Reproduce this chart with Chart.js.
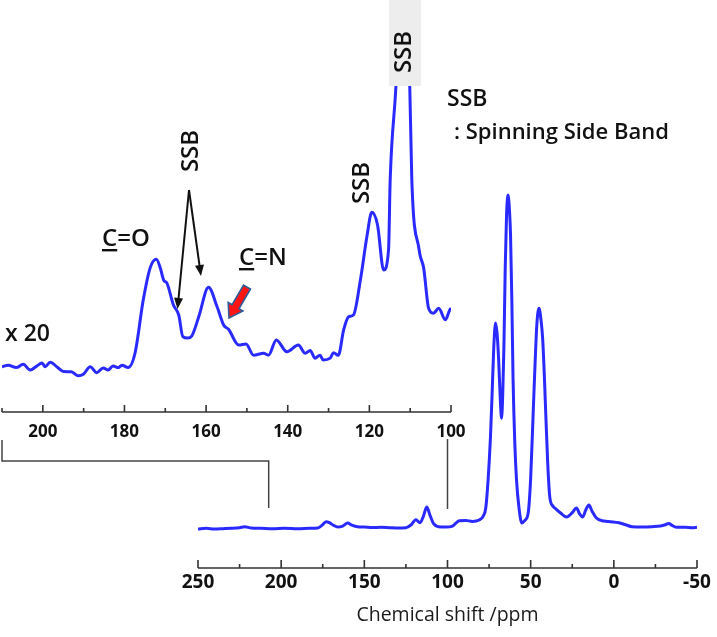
<!DOCTYPE html>
<html><head><meta charset="utf-8">
<script src="https://cdn.jsdelivr.net/npm/chart.js@4"></script>
<style>
html,body{margin:0;padding:0;background:#fff;}
#wrap{position:relative;width:717px;height:637px;overflow:hidden;}
canvas{position:absolute;left:0;top:0;}
</style></head><body>
<div id="wrap">
<canvas id="main" width="717" height="637"></canvas>
<canvas id="inset" width="717" height="450"></canvas>
</div>
<script>
// ---- data ----
const mainPpm = [250,245,240,235,230,225,222,218,212,205,198,190,183,178,175.5,173,171,168.5,166,163,160,157.5,154,150,145,140,135,130,125,122,119,116.5,114.5,112.5,110.5,108.5,105.5,101,97,93,89,85,81,78.5,77,75.6,74.2,73.2,72.2,71.1,70.2,69.2,68.2,67.5,66.8,66.1,65.3,64.5,63.6,62.7,62.1,61.3,60.6,59.5,58.5,57,55.3,53.5,51.5,50,48.5,47.3,46.3,45,43.8,42.8,41.8,40.9,39.8,38.5,36.5,35,32,28.5,25,22.5,20.5,18.8,16.8,15,13,10.5,6,2,-3,-7,-11,-17,-23,-28,-31,-33,-35,-38,-43,-47,-50];
const mainIntensity = [-0.3,-0.1,-0.3,-0.2,-0.1,0.1,0.4,0.0,-0.1,-0.2,-0.1,-0.2,-0.1,0.0,0.8,1.9,1.6,0.8,0.3,0.6,1.5,0.9,0.4,0.3,0.15,0.2,0.1,0.0,0.1,0.9,2.5,1.6,3.5,6.3,3.8,1.4,0.4,0.3,0.6,2.2,2.3,2.0,2.4,3.6,6.0,14.4,27,40,54,61.6,58.5,50,38,33,40,54,78,94,100,95,88,68,45,25,14.4,6,1.5,2.3,4.5,15,34.5,50,61,66,62.5,57,46,34,20,9.3,6.5,5.8,4.5,3.3,4.6,6.0,4.2,3.3,5.5,6.9,5.0,3.0,2.1,1.9,1.6,1.0,0.4,0.3,0.4,0.6,1.0,1.4,0.8,0.2,0.2,0.1,0.2];

const insetPpm = [210,208.5,206.5,204.8,203.1,201.5,200.2,199.4,198.2,196.5,194.9,193,191.3,190,188.4,186.8,185.2,184,182.8,181.5,180.6,179.1,177.4,175.4,173.7,172.2,171.2,170.4,169.6,168,166.7,165.7,164.5,163.5,161.8,159.4,157.3,155.7,154.5,152,150.2,148.4,145.9,144.7,142.8,140.2,137.4,135.7,134.5,133.3,132.1,131.3,129.6,128.8,127.6,126.3,125.1,123.9,122.2,120.6,119.4,118,116.5,115.3,114.9,113.5,112,110.1,109.6,107.8,107.5,106.7,105.5,104.3,103,101.4,100.3,100];
const insetIntensity = [0.1,0.6,-0.2,0.9,-1.0,0.3,1.3,0.1,1.6,0.0,-1.5,-1.6,-2.9,-2.3,0.1,-1.9,-0.3,-1.0,0.3,-0.2,0.6,-0.2,4.6,22,32.6,35.4,32.5,28.6,27.6,20.4,17.1,10,9.5,10.2,16.5,26.2,19.8,13.8,12.4,7.2,7.6,3.9,4.5,3.9,8.9,5.0,7.2,4.5,5.4,2.9,3.9,2.3,2.9,4.7,3.9,12.2,16.5,17.1,28.6,42.9,50.9,46.7,31.9,38.5,61.5,92,135,92,61.5,38.5,36.3,32.6,19.4,17.7,19.3,15.5,18.8,19.4];

const mainTicks = [250,200,150,100,50,0,-50];
const mainMinorTicks = [225,175,125,75,25,-25];
const insetTicks = [200,180,160,140,120,100];
const insetMinorTicks = [210,190,170,150,130,110];
const xTitle = 'Chemical shift /ppm';
const zoomLabel = 'x 20';
const ssbLabel = 'SSB';
const ssbNote = ': Spinning Side Band';

// ---- styles ----
const BLUE = '#2a2aff';
const FONT = "'Open Sans', 'DejaVu Sans', sans-serif";
const AXIS = '#333';

function axisMarks(major, minor, majLen, minLen) {
  return {
    id: 'axisMarks',
    afterDraw(chart) {
      const {ctx, chartArea} = chart;
      const xs = chart.scales.x;
      const y0 = chartArea.bottom;
      ctx.save();
      ctx.strokeStyle = AXIS; ctx.lineWidth = 1.6;
      ctx.beginPath();
      ctx.moveTo(chartArea.left, y0); ctx.lineTo(chartArea.right, y0);
      major.forEach(v => { const x = xs.getPixelForValue(v); ctx.moveTo(x, y0); ctx.lineTo(x, y0 - majLen); });
      minor.forEach(v => { const x = xs.getPixelForValue(v); ctx.moveTo(x, y0); ctx.lineTo(x, y0 - minLen); });
      ctx.stroke();
      ctx.restore();
    }
  };
}

function lineArrow(ctx, x1, y1, x2, y2) {
  const ang = Math.atan2(y2 - y1, x2 - x1);
  const hl = 11, hw = 4.5;
  ctx.beginPath();
  ctx.moveTo(x1, y1);
  ctx.lineTo(x2 - Math.cos(ang) * hl * 0.8, y2 - Math.sin(ang) * hl * 0.8);
  ctx.stroke();
  ctx.save();
  ctx.translate(x2, y2); ctx.rotate(ang);
  ctx.beginPath();
  ctx.moveTo(0, 0); ctx.lineTo(-hl, -hw); ctx.lineTo(-hl, hw); ctx.closePath();
  ctx.fill();
  ctx.restore();
}

function blockArrow(ctx, x1, y1, x2, y2, sw, hw, hl) {
  const ang = Math.atan2(y2 - y1, x2 - x1);
  const len = Math.hypot(x2 - x1, y2 - y1);
  ctx.save();
  ctx.translate(x1, y1); ctx.rotate(ang);
  ctx.beginPath();
  ctx.moveTo(0, -sw / 2); ctx.lineTo(len - hl, -sw / 2); ctx.lineTo(len - hl, -hw / 2);
  ctx.lineTo(len, 0); ctx.lineTo(len - hl, hw / 2); ctx.lineTo(len - hl, sw / 2); ctx.lineTo(0, sw / 2);
  ctx.closePath();
  ctx.fillStyle = '#ff1414'; ctx.fill();
  ctx.strokeStyle = '#2f5d9a'; ctx.lineWidth = 1.6; ctx.stroke();
  ctx.restore();
}

function rotText(ctx, text, cx, cy) {
  ctx.save();
  ctx.translate(cx, cy); ctx.rotate(-Math.PI / 2);
  ctx.textAlign = 'center'; ctx.textBaseline = 'middle';
  ctx.fillText(text, 0, 0);
  ctx.restore();
}

function underlined(ctx, text, x, y) {
  ctx.textAlign = 'left'; ctx.textBaseline = 'alphabetic';
  ctx.fillText(text, x, y);
  const w = ctx.measureText(text.charAt(0)).width;
  ctx.fillRect(x, y + 3, w, 2.4);
}

const insetNotes = {
  id: 'insetNotes',
  afterDraw(chart) {
    const ctx = chart.ctx;
    ctx.save();
    // grey label box over the clipped SSB peak
    ctx.fillStyle = '#ededed';
    ctx.fillRect(389, 0, 32, 86);
    ctx.fillStyle = '#111'; ctx.strokeStyle = '#111';
    ctx.font = "600 24px " + FONT;
    rotText(ctx, ssbLabel, 404, 52);
    rotText(ctx, ssbLabel, 362, 183);
    rotText(ctx, ssbLabel, 191, 151);
    // legend note
    ctx.textAlign = 'left'; ctx.textBaseline = 'alphabetic';
    ctx.font = "600 23px " + FONT;
    ctx.fillText(ssbLabel, 447, 106);
    ctx.font = "600 22px " + FONT;
    ctx.fillText(ssbNote, 454, 139);
    // x20
    ctx.font = "600 23px " + FONT;
    ctx.fillText(zoomLabel, 5, 341);
    // C=O / C=N
    ctx.font = "600 24px " + FONT;
    underlined(ctx, 'C=O', 102, 246);
    underlined(ctx, 'C=N', 239, 265);
    // black arrows
    ctx.lineWidth = 2;
    lineArrow(ctx, 189, 190, 177.5, 309);
    lineArrow(ctx, 189, 190, 201, 276);
    // red arrow
    blockArrow(ctx, 247, 287, 229, 318, 8, 17, 13);
    ctx.restore();
  }
};

const bracket = {
  id: 'bracket',
  afterDraw(chart) {
    const ctx = chart.ctx;
    const xs = chart.scales.x;
    const xl = xs.getPixelForValue(207.5);
    const xr = xs.getPixelForValue(100);
    ctx.save();
    ctx.strokeStyle = '#444'; ctx.lineWidth = 1.5;
    ctx.beginPath();
    ctx.moveTo(2, 440); ctx.lineTo(2, 461); ctx.lineTo(xl, 461); ctx.lineTo(xl, 508);
    ctx.moveTo(xr, 439); ctx.lineTo(xr, 509);
    ctx.stroke();
    ctx.restore();
  }
};

function toXY(px, py) { return px.map((p, i) => ({x: p, y: py[i]})); }

new Chart(document.getElementById('main'), {
  type: 'line',
  data: { datasets: [{ data: toXY(mainPpm, mainIntensity), borderColor: BLUE, borderWidth: 3,
    pointRadius: 0, cubicInterpolationMode: 'monotone', fill: false }] },
  options: {
    responsive: false, animation: false, events: [],
    layout: { padding: { left: 198, right: 20, top: 0, bottom: 0 } },
    plugins: { legend: { display: false }, tooltip: { enabled: false } },
    scales: {
      x: { type: 'linear', min: -50, max: 250, reverse: true,
        afterBuildTicks: s => { s.ticks = mainTicks.map(v => ({value: v})); },
        afterFit: s => { s.height = 69; },
        grid: { display: false, drawTicks: false }, border: { display: false },
        ticks: { font: { family: FONT, size: 19, weight: '700' }, color: '#111', padding: 3, maxRotation: 0, autoSkip: false },
        title: { display: true, text: xTitle, font: { family: FONT, size: 19.5 }, color: '#1a1a1a', padding: { top: 0, bottom: 10 } } },
      y: { display: false, min: -12, max: 158.56 }
    }
  },
  plugins: [axisMarks(mainTicks, mainMinorTicks, 8, 4), bracket]
});

new Chart(document.getElementById('inset'), {
  type: 'line',
  data: { datasets: [{ data: toXY(insetPpm, insetIntensity), borderColor: BLUE, borderWidth: 3,
    pointRadius: 0, cubicInterpolationMode: 'monotone', fill: false }] },
  options: {
    responsive: false, animation: false, events: [],
    layout: { padding: { left: 2, right: 266, top: 0, bottom: 0 } },
    plugins: { legend: { display: false }, tooltip: { enabled: false } },
    scales: {
      x: { type: 'linear', min: 100, max: 210, reverse: true,
        afterBuildTicks: s => { s.ticks = insetTicks.map(v => ({value: v})); },
        afterFit: s => { s.height = 38; },
        grid: { display: false, drawTicks: false }, border: { display: false },
        ticks: { font: { family: FONT, size: 17, weight: '700' }, color: '#111', padding: 10, maxRotation: 0, autoSkip: false } },
      y: { display: false, min: -14.8, max: 120.7 }
    }
  },
  plugins: [axisMarks(insetTicks, insetMinorTicks, 7, 4), insetNotes]
});
</script>
</body></html>
